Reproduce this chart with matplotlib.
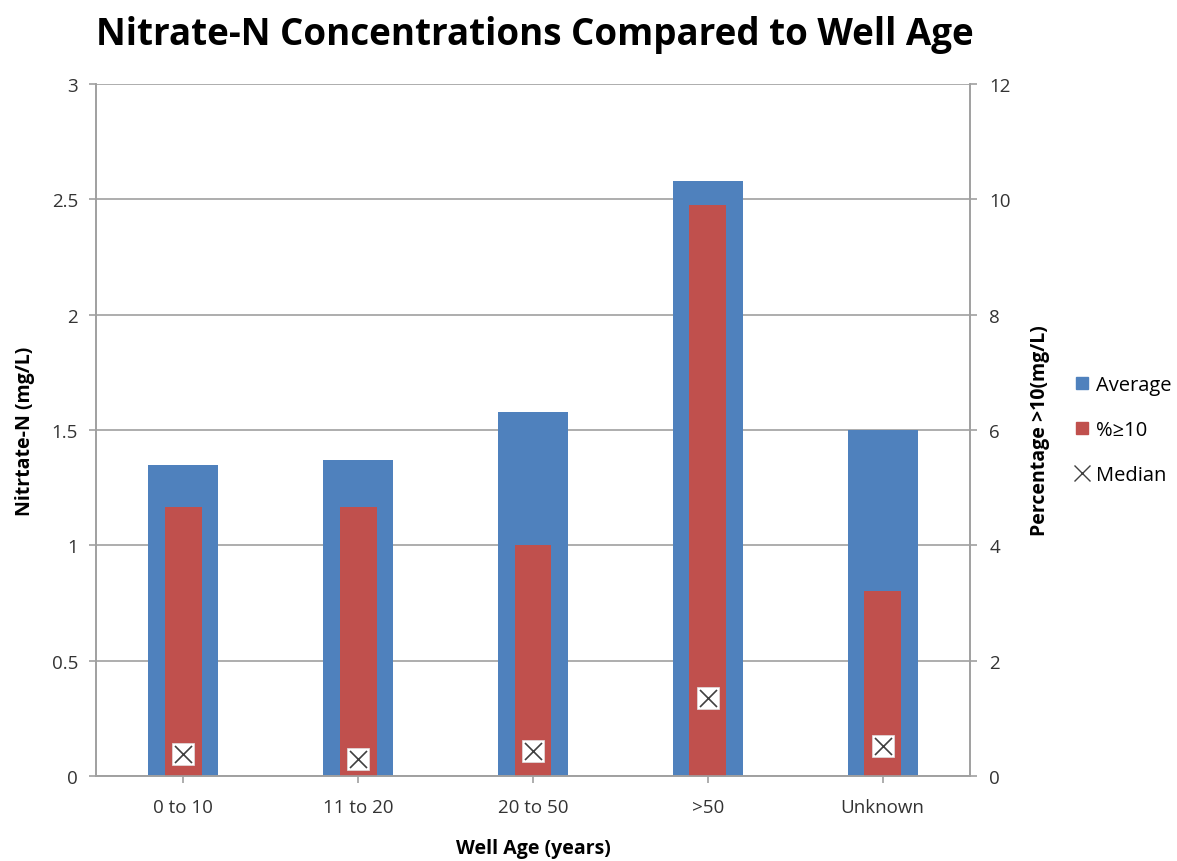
import matplotlib.pyplot as plt
import numpy as np
from matplotlib.lines import Line2D

plt.rcParams['font.family'] = ['Open Sans', 'DejaVu Sans']

# Well age groups and nitrate summary
categories = ['0 to 10', '11 to 20', '20 to 50', '>50', 'Unknown']
average = [1.35, 1.37, 1.58, 2.58, 1.50]       # mg/L, left axis
pct_over_10 = [4.66, 4.66, 4.00, 9.90, 3.20]   # %, right axis
median = [0.095, 0.075, 0.11, 0.34, 0.13]      # mg/L, left axis

blue = '#4F81BD'
red = '#C0504D'
grid_col = '#A0A0A0'

x = np.arange(len(categories))

fig = plt.figure(figsize=(11.77, 8.62), dpi=100, facecolor='w')
ax = fig.add_axes([96/1177, 85/862, 874/1177, 692/862])
ax2 = ax.twinx()

ax.bar(x, average, width=0.40, color=blue, zorder=2)
ax2.bar(x, pct_over_10, width=0.21, color=red, zorder=2)
# median sits on the mg/L scale, ax2 is 4x that
ax2.scatter(x, np.array(median)*4, marker='s', s=230, c='white', edgecolors='#E0E0E0', linewidths=0.5, zorder=3)
ax2.scatter(x, np.array(median)*4, marker='x', s=150, c='#404040', linewidths=1.2, zorder=4)

ax.set_xlim(-0.5, len(categories)-0.5)
ax.set_ylim(0, 3)
ax2.set_ylim(0, 12)
ax.set_yticks(np.arange(0, 3.01, 0.5))
ax.set_yticklabels(['0', '0.5', '1', '1.5', '2', '2.5', '3'])
ax2.set_yticks(np.arange(0, 12.1, 2))
ax.set_xticks(x)
ax.set_xticklabels(categories)
ax.yaxis.grid(True, color=grid_col, lw=1.2, zorder=0)
ax.set_axisbelow(True)

for a in (ax, ax2):
    a.spines['top'].set_visible(False)
    for s in ('left', 'right', 'bottom'):
        a.spines[s].set_color(grid_col)
        a.spines[s].set_linewidth(1.2)
    a.tick_params(colors='#333333', labelsize=13.5, length=5, color=grid_col, width=1.2)
ax.tick_params(axis='x', pad=11)
ax.tick_params(axis='y', pad=8)
ax2.tick_params(axis='y', pad=9)

ax.set_xlabel('Well Age (years)', fontsize=14, fontweight='bold', labelpad=16)
ax.set_ylabel('Nitrtate-N (mg/L)', fontsize=14, fontweight='bold', labelpad=12)
ax2.set_ylabel('Percentage >10(mg/L)', fontsize=14, fontweight='bold', labelpad=14)

fig.suptitle('Nitrate-N Concentrations Compared to Well Age', x=535/1177, y=0.982,
             fontsize=26.5, fontweight='bold')

handles = [Line2D([], [], marker='s', ls='', color=blue, ms=9),
           Line2D([], [], marker='s', ls='', color=red, ms=9),
           Line2D([], [], marker='x', ls='', color='#404040', ms=12, mew=1.0)]
fig.legend(handles, ['Average', '%\u226510', 'Median'], loc='center left',
           bbox_to_anchor=(1052/1177, 1-431/862), frameon=False, fontsize=14.5,
           handletextpad=0.1, labelspacing=1.25, handlelength=1.2)

fig.savefig('out.png', dpi=100)
